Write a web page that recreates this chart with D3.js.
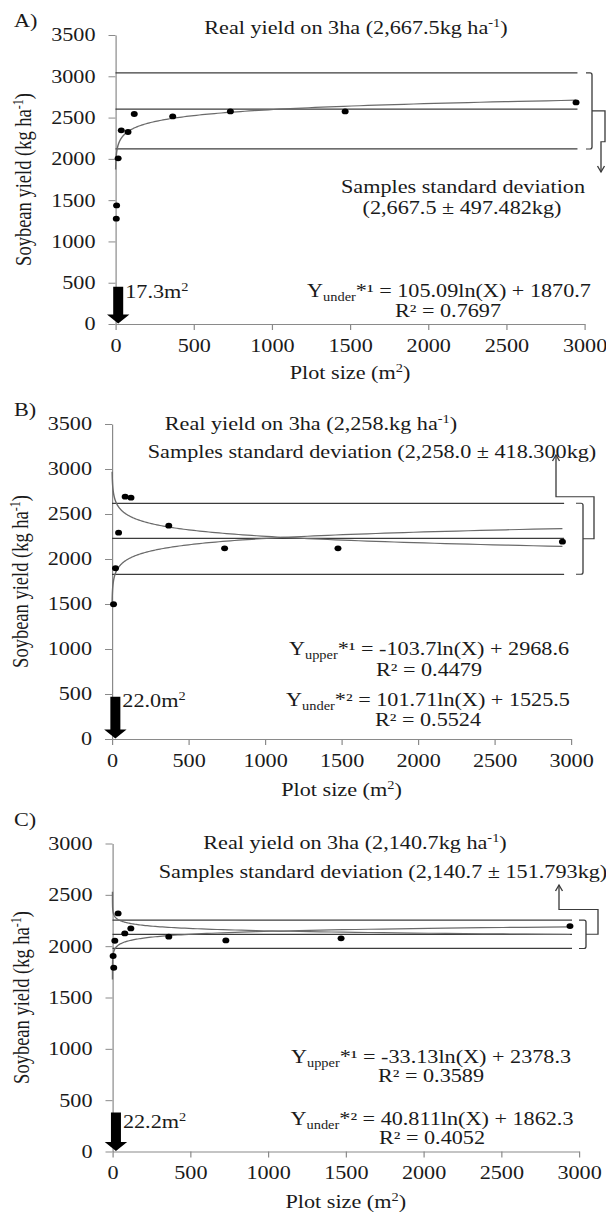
<!DOCTYPE html>
<html>
<head>
<meta charset="utf-8">
<script src="https://cdn.jsdelivr.net/npm/d3@7"></script>
<style>
  body { margin: 0; background: #fff; }
  svg text { font-family: "Liberation Serif", "Times New Roman", serif; fill: #1a1a1a; }
</style>
</head>
<body>
<script>
// ---- values ----
var sizeA  = [5, 7, 17, 37, 80, 120, 366, 735, 1469, 2946];
var yieldA = [1275, 1436, 2007, 2345, 2325, 2543, 2514, 2574, 2574, 2683];
var sizeB  = [10, 23, 43, 86, 124, 371, 736, 1477, 2944];
var yieldB = [1497, 1897, 2292, 2692, 2681, 2370, 2119, 2119, 2192];
var sizeC  = [4, 8, 15, 36, 79, 118, 362, 729, 1470, 2942];
var yieldC = [1904, 1790, 2053, 2319, 2124, 2173, 2092, 2056, 2076, 2196];

// horizontal reference lines (upper, real yield, lower)
var linesA = [3041, 2603, 2120];
var linesB = [2619, 2230, 1830];
var linesC = [2254, 2115, 1978];

// log trend lines: y = a ln(x) + b
var trendA = [{ a: 105.09, b: 1870.7 }];
var trendB = [{ a: -103.7, b: 2968.6 }, { a: 101.71, b: 1525.5 }];
var trendC = [{ a: -33.13, b: 2378.3 }, { a: 40.811, b: 1862.3 }];

var xTicks  = [0, 500, 1000, 1500, 2000, 2500, 3000];
var yTicksA = [0, 500, 1000, 1500, 2000, 2500, 3000, 3500];
var yTicksC = [0, 500, 1000, 1500, 2000, 2500, 3000];

var W = 606, H = 1213, SX = 1.2, FS = 18.5;

var svg = d3.select("body").append("svg").attr("width", W).attr("height", H);
// the original figure is stretched horizontally, so is this one
var root = svg.append("g").attr("transform", "scale(" + SX + ",1)");

var panels = [
  { tag: "A)", tagY: 21, left: 115.5, right: 584.5, top: 35, bottom: 324, ymax: 3500, yTicks: yTicksA,
    size: sizeA, yield: yieldA, lines: linesA, trends: trendA, curveFrom: 1,
    arrow: { at: 17.3, top: 450, label: "17.3m", dy: 5 },
    title: ["Real yield on 3ha (2,667.5kg ha", "-1", ")"], titleX: 356, titleY: 28,
    sd: [["Samples standard deviation", 463, 187], ["(2,667.5 \u00b1 497.482kg)", 462, 208]],
    eqs: [[["Y", "under", "*\u00b9 = 105.09ln(X) + 1870.7"], 449, 291], [["R\u00b2 = 0.7697"], 448, 311]],
    yLabelX: 31, xLabelY: 373,
    bracket: { x0: 586, x1: 592, path: [[605, null], [605, 141.7], [601, 141.7], [601, 172]] } },
  { tag: "B)", tagY: 410, left: 112, right: 571, top: 424, bottom: 739, ymax: 3500, yTicks: yTicksA,
    size: sizeB, yield: yieldB, lines: linesB, trends: trendB, curveFrom: 1,
    arrow: { at: 22, top: 470, label: "22.0m", dy: 4 },
    title: ["Real yield on 3ha (2,258.kg ha", "-1", ")"], titleX: 311, titleY: 424,
    sd: [["Samples standard deviation (2,258.0 \u00b1 418.300kg)", 372, 452]],
    eqs: [[["Y", "upper", "*\u00b9 = -103.7ln(X) + 2968.6"], 429, 649], [["R\u00b2 = 0.4479"], 429, 670],
          [["Y", "under", "*\u00b2 = 101.71ln(X) + 1525.5"], 428, 700], [["R\u00b2 = 0.5524"], 428, 720]],
    yLabelX: 28, xLabelY: 790,
    bracket: { x0: 576, x1: 583, path: [[594, null], [594, 496.7], [556, 496.7], [556, 455]] } },
  { tag: "C)", tagY: 820, left: 112.5, right: 579, top: 843.5, bottom: 1151.5, ymax: 3000, yTicks: yTicksC,
    size: sizeC, yield: yieldC, lines: linesC, trends: trendC, curveFrom: 0.01,
    arrow: { at: 22.2, top: 380, label: "22.2m", dy: 9 },
    title: ["Real yield on 3ha (2,140.7kg ha", "-1", ")"], titleX: 355, titleY: 843,
    sd: [["Samples standard deviation (2,140.7 \u00b1 151.793kg)", 383, 872]],
    eqs: [[["Y", "upper", "*\u00b9 = -33.13ln(X) + 2378.3"], 431, 1057], [["R\u00b2 = 0.3589"], 431, 1076],
          [["Y", "under", "*\u00b2 = 40.811ln(X) + 1862.3"], 432, 1119], [["R\u00b2 = 0.4052"], 432, 1138]],
    yLabelX: 29, xLabelY: 1202,
    bracket: { x0: 579, x1: 586, path: [[598, null], [598, 909.5], [559, 909.5], [559, 885]] } }
];

panels.forEach(drawPanel);

function drawPanel(p) {
  var g = root.append("g");
  var x = d3.scaleLinear().domain([0, 3000]).range([p.left / SX, p.right / SX]);
  var y = d3.scaleLinear().domain([0, p.ymax]).range([p.bottom, p.top]);

  //Axes
  var ya = g.append("g").attr("transform", "translate(" + x(0) + ",0)")
    .call(d3.axisLeft(y).tickValues(p.yTicks).tickFormat(d3.format("d"))
      .tickSize(7 / SX).tickSizeOuter(0).tickPadding(13 / SX));
  var xa = g.append("g").attr("transform", "translate(0," + y(0) + ")")
    .call(d3.axisBottom(x).tickValues(xTicks).tickFormat(d3.format("d"))
      .tickSize(6).tickSizeOuter(0).tickPadding(8.5));
  [ya, xa].forEach(function (a) {
    a.attr("font-family", null).attr("font-size", null);
    a.selectAll("path, line").attr("stroke", "#8a8a8a");
    a.selectAll("text").style("font-size", FS + "px");
  });

  //Reference lines
  g.selectAll(".ref").data(p.lines).enter().append("line")
    .attr("x1", x(0)).attr("x2", x(2955))
    .attr("y1", y).attr("y2", y)
    .attr("stroke", "#3c3c3c").attr("stroke-width", 1.3);

  //Trend curves
  var xs = d3.range(240).map(function (i) {
    return p.curveFrom * Math.pow(d3.max(p.size) / p.curveFrom, i / 239);
  });
  p.trends.forEach(function (t) {
    g.append("path")
      .attr("d", d3.line()
        .x(function (v) { return x(v); })
        .y(function (v) { return y(t.a * Math.log(v) + t.b); })(xs))
      .attr("fill", "none").attr("stroke", "#6a6a6a").attr("stroke-width", 1.2);
  });

  //Points
  g.selectAll(".pt").data(p.size).enter().append("circle")
    .attr("cx", function (d) { return x(d); })
    .attr("cy", function (d, i) { return y(p.yield[i]); })
    .attr("r", 2.9).attr("fill", "#000");

  //Optimum plot size arrow
  var ax = x(p.arrow.at), sw = 5 / SX, hw = 11.2 / SX, ht = y(p.arrow.top), tip = y(0) - 0.5;
  g.append("path")
    .attr("d", "M" + (ax - sw) + "," + ht + "H" + (ax + sw) + "V" + (tip - 9) + "H" + (ax + hw) +
      "L" + ax + "," + tip + "L" + (ax - hw) + "," + (tip - 9) + "H" + (ax - sw) + "Z")
    .attr("fill", "#000");
  label(g, ax * SX + 7, ht + p.arrow.dy, [[p.arrow.label, ""], ["2", "sup"]], "start");

  //Bracket around the deviation band and its pointer
  var b = p.bracket, bt = y(p.lines[0]), bb = y(p.lines[2]), bm = (bt + bb) / 2;
  g.append("path")
    .attr("d", "M" + b.x0 / SX + "," + bt + "H" + (b.x1 - 2) / SX + "Q" + b.x1 / SX + "," + bt + " " + b.x1 / SX + "," + (bt + 2) +
      "V" + (bb - 2) + "Q" + b.x1 / SX + "," + bb + " " + (b.x1 - 2) / SX + "," + bb + "H" + b.x0 / SX)
    .attr("fill", "none").attr("stroke", "#3c3c3c").attr("stroke-width", 1.1);
  var pts = [[b.x1, bm]].concat(b.path.map(function (q) { return [q[0], q[1] === null ? bm : q[1]]; }));
  g.append("path")
    .attr("d", d3.line().x(function (q) { return q[0] / SX; }).y(function (q) { return q[1]; })(pts))
    .attr("fill", "none").attr("stroke", "#3c3c3c").attr("stroke-width", 1.1);
  var end = pts[pts.length - 1], prev = pts[pts.length - 2], dir = end[1] > prev[1] ? -1 : 1;
  g.append("path")
    .attr("d", "M" + (end[0] - 3.5) / SX + "," + (end[1] + dir * 6) + "L" + end[0] / SX + "," + end[1] +
      "L" + (end[0] + 3.5) / SX + "," + (end[1] + dir * 6))
    .attr("fill", "none").attr("stroke", "#3c3c3c").attr("stroke-width", 1.1);

  //Texts
  label(g, 14, p.tagY, [[p.tag, ""]], "start");
  label(g, p.titleX, p.titleY, [[p.title[0], ""], [p.title[1], "sup"], [p.title[2], ""]], "middle");
  p.sd.forEach(function (s) { label(g, s[1], s[2], [[s[0], ""]], "middle"); });
  p.eqs.forEach(function (e) {
    var parts = e[0].length === 1 ? [[e[0][0], ""]] : [[e[0][0], ""], [e[0][1], "sub"], [e[0][2], ""]];
    label(g, e[1], e[2], parts, "middle");
  });
  label(g, (p.left + p.right) / 2, p.xLabelY, [["Plot size (m", ""], ["2", "sup"], [")", ""]], "middle");

  var yl = g.append("text")
    .attr("transform", "translate(" + p.yLabelX / SX + "," + (p.top + p.bottom) / 2 + ") rotate(-90)")
    .attr("text-anchor", "middle").attr("dy", "0.33em").style("font-size", FS + "px");
  addParts(yl, [["Soybean yield (kg ha", ""], ["-1", "sup"], [")", ""]]);
}

// text placed by its visual centre, in screen pixels
function label(g, sx, cy, parts, anchor) {
  var t = g.append("text")
    .attr("x", sx / SX).attr("y", cy + 6.2)
    .attr("text-anchor", anchor).style("font-size", FS + "px");
  addParts(t, parts);
  return t;
}

function addParts(t, parts) {
  var shift = 0;
  parts.forEach(function (q) {
    var want = q[1] === "sup" ? -7 : q[1] === "sub" ? 4 : 0;
    t.append("tspan")
      .attr("dy", want - shift)
      .style("font-size", q[1] ? "12px" : null)
      .text(q[0]);
    shift = want;
  });
}
</script>
</body>
</html>
